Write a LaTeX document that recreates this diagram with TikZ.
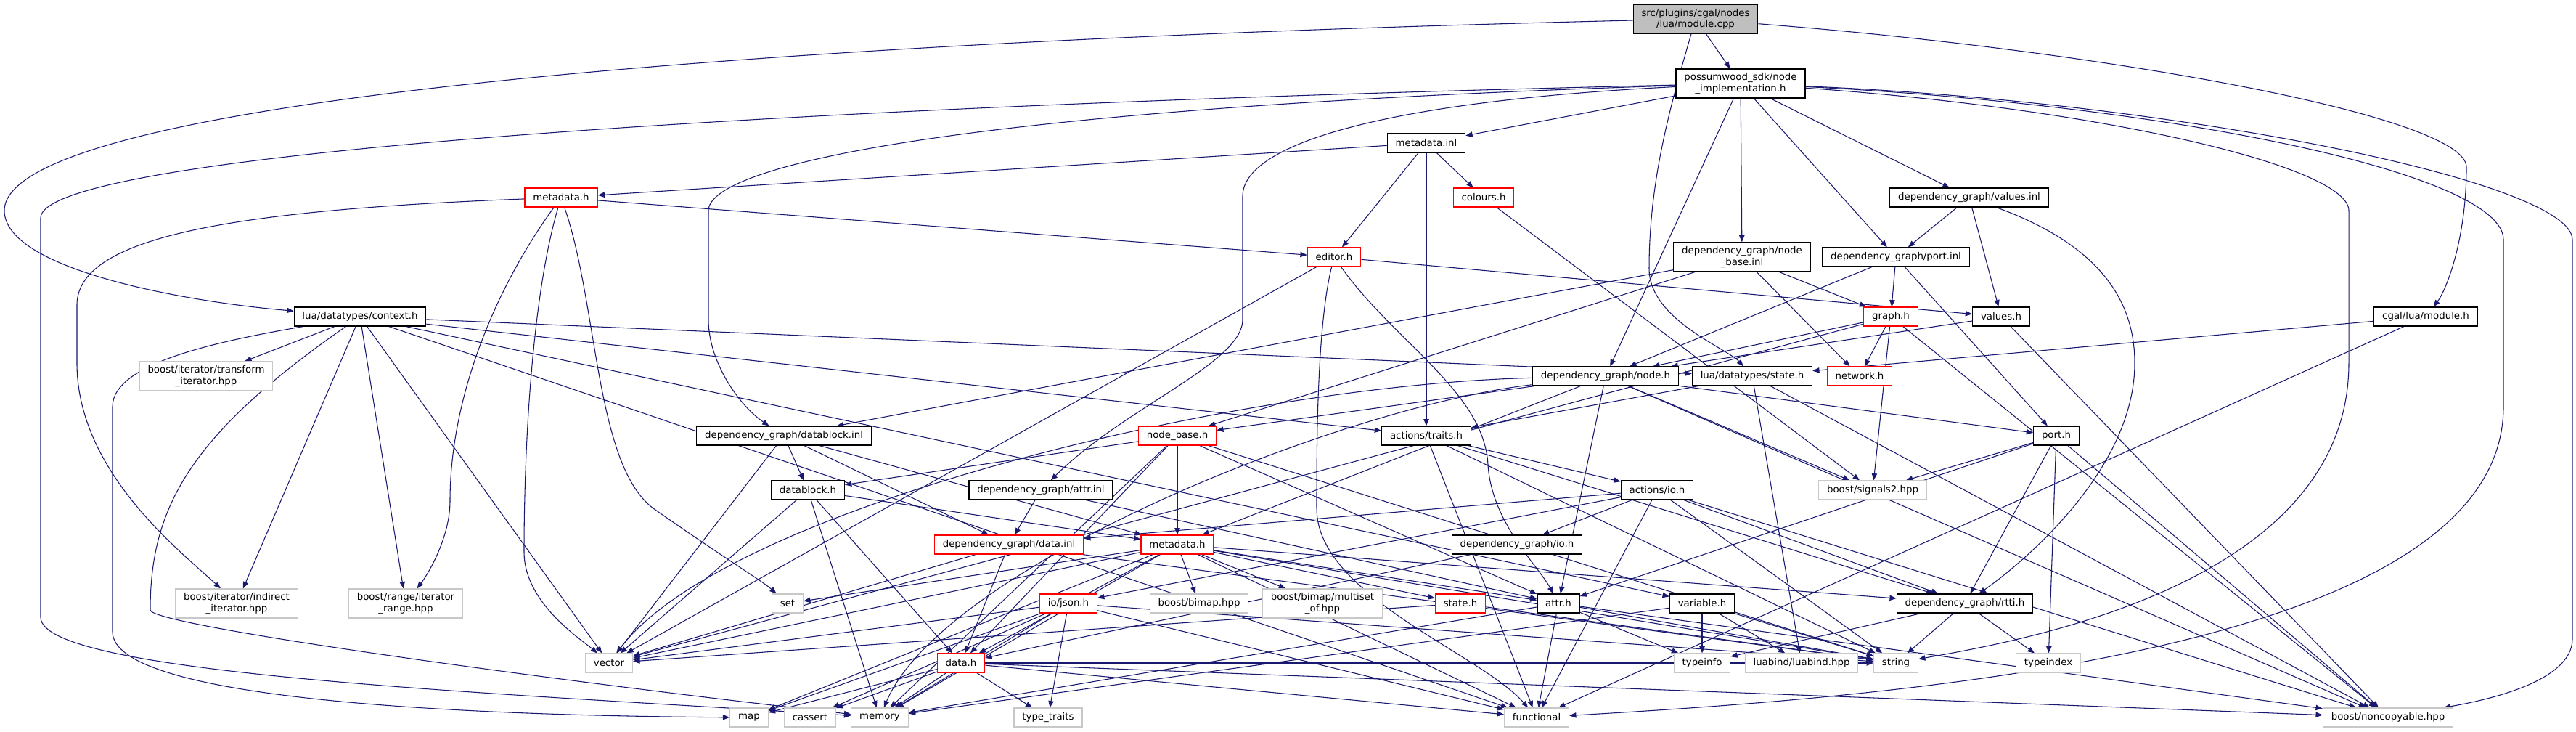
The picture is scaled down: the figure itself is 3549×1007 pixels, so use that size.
\documentclass[tikz,border=0pt]{standalone}
\usepackage{fontspec}
\setmainfont{DejaVu Sans}
\usetikzlibrary{arrows.meta,backgrounds}
\definecolor{depblue}{HTML}{191970}
\definecolor{extgray}{HTML}{C8C8C8}
\definecolor{rootgray}{HTML}{BFBFBF}
\definecolor{truncred}{HTML}{FF0000}

\begin{document}
\begin{tikzpicture}[x=0.75pt, y=-0.75pt,
    hdr/.style={draw=black, fill=white, line width=0.9pt, inner xsep=8.5pt, inner ysep=0pt,
      minimum height=19.5pt, align=center, font=\fontsize{10}{11.5}\selectfont},
    twoline/.style={minimum height=30pt},
    trunc/.style={hdr, draw=truncred},
    ext/.style={hdr, draw=extgray},
    rootf/.style={hdr, fill=rootgray},
    dep/.style={draw=depblue, line width=0.8pt, -{Triangle[length=7pt,width=5.5pt]}}]
  \useasboundingbox (0,0) rectangle (3549,1007);
  % top of the graph
  \node[rootf, twoline] (mcpp) at (2336,26) {src/plugins/cgal/nodes\\/lua/module.cpp};
  \node[hdr, twoline] (nimpl) at (2398,115) {possumwood\_sdk/node\\\_implementation.h};
  \node[hdr] (mdinl) at (1965,197) {metadata.inl};
  \node[trunc] (mdh) at (773,272) {metadata.h};
  \node[trunc] (colours) at (2044,272) {colours.h};
  \node[hdr] (valinl) at (2713,272) {dependency\_graph/values.inl};
  \node[trunc] (editor) at (1838,354) {editor.h};
  \node[hdr, twoline] (nbinl) at (2400,354) {dependency\_graph/node\\\_base.inl};
  \node[hdr] (portinl) at (2612,354) {dependency\_graph/port.inl};
  \node[hdr] (ctx) at (496,436) {lua/datatypes/context.h};
  \node[trunc] (graph) at (2605,436) {graph.h};
  \node[hdr] (valh) at (2757,436) {values.h};
  \node[hdr] (cgalmod) at (3342,436) {cgal/lua/module.h};
  % middle rows
  \node[ext, twoline] (transit) at (284,518) {boost/iterator/transform\\\_iterator.hpp};
  \node[hdr] (nodeh) at (2212,518) {dependency\_graph/node.h};
  \node[hdr] (lstate) at (2414,518) {lua/datatypes/state.h};
  \node[trunc] (network) at (2562,518) {network.h};
  \node[hdr] (dbinl) at (1080,600) {dependency\_graph/datablock.inl};
  \node[trunc] (nbh) at (1622,600) {node\_base.h};
  \node[hdr] (traits) at (1965,600) {actions/traits.h};
  \node[hdr] (porth) at (2833,600) {port.h};
  \node[hdr] (dbh) at (1113,675) {datablock.h};
  \node[hdr] (attrinl) at (1434,675) {dependency\_graph/attr.inl};
  \node[hdr] (aio) at (2283,675) {actions/io.h};
  \node[ext] (sig) at (2580,675) {boost/signals2.hpp};
  \node[trunc] (datainl) at (1390,750) {dependency\_graph/data.inl};
  \node[trunc] (dgmd) at (1622,750) {metadata.h};
  \node[hdr] (dgio) at (2090,750) {dependency\_graph/io.h};
  \node[ext, twoline] (indit) at (326,831) {boost/iterator/indirect\\\_iterator.hpp};
  \node[ext, twoline] (itrange) at (559,831) {boost/range/iterator\\\_range.hpp};
  \node[ext] (setx) at (1085,831) {set};
  \node[trunc] (json) at (1472,831) {io/json.h};
  \node[ext] (bimap) at (1652,831) {boost/bimap.hpp};
  \node[ext, twoline] (multiset) at (1822,831) {boost/bimap/multiset\\\_of.hpp};
  \node[trunc] (stateh) at (2012,831) {state.h};
  \node[hdr] (attrh) at (2147,831) {attr.h};
  \node[hdr] (variable) at (2345,831) {variable.h};
  \node[hdr] (rtti) at (2707,831) {dependency\_graph/rtti.h};
  % system and library headers
  \node[ext] (vector) at (839,913) {vector};
  \node[trunc] (datah) at (1324,913) {data.h};
  \node[ext] (typeinfo) at (2345,913) {typeinfo};
  \node[ext] (luabind) at (2482,913) {luabind/luabind.hpp};
  \node[ext] (string) at (2612,913) {string};
  \node[ext] (typeindex) at (2822,913) {typeindex};
  \node[ext] (map) at (1032,988) {map};
  \node[ext] (cassert) at (1116,988) {cassert};
  \node[ext] (memory) at (1212,988) {memory};
  \node[ext] (typetraits) at (1444,988) {type\_traits};
  \node[ext] (functional) at (2117,988) {functional};
  \node[ext] (noncopy) at (3290,988) {boost/noncopyable.hpp};

  \begin{scope}[on background layer]
    \fill[white] (0,0) rectangle (3549,1007);
    % long routed includes
    \draw[dep] (mcpp) .. controls (900,60) and (6,150) .. (6,290) .. controls (6,370) and (250,415) .. (ctx);
    \draw[dep] (mcpp) .. controls (2300,150) and (2272,250) .. (2272,370) .. controls (2272,440) and (2380,480) .. (lstate);
    \draw[dep] (mcpp) .. controls (2900,70) and (3398,160) .. (3398,230) .. controls (3398,330) and (3370,400) .. (cgalmod);
    \draw[dep] (nimpl) .. controls (900,150) and (56,220) .. (56,300) -- (56,850) .. controls (56,930) and (700,955) .. (memory);
    \draw[dep] (nimpl) .. controls (1300,150) and (976,230) .. (976,290) -- (976,440) .. controls (976,500) and (1020,560) .. (dbinl);
    \draw[dep] (nimpl) .. controls (1900,140) and (1712,200) .. (1712,270) -- (1712,440) .. controls (1712,500) and (1550,560) .. (attrinl);
    \draw[dep] (nimpl) .. controls (3000,140) and (3544,250) .. (3544,330) -- (3544,880) .. controls (3544,940) and (3420,965) .. (noncopy);
    \draw[dep] (nimpl) .. controls (2900,150) and (3236,230) .. (3236,290) -- (3236,500) .. controls (3236,800) and (2800,880) .. (string);
    \draw[dep] (nimpl) .. controls (3000,145) and (3449,240) .. (3449,330) -- (3449,560) .. controls (3449,900) and (2600,960) .. (functional);
    \draw[dep] (mdh) .. controls (300,290) and (106,330) .. (106,420) -- (106,500) .. controls (106,650) and (250,760) .. (indit);
    \draw[dep] (mdh) .. controls (680,400) and (620,550) .. (620,690) .. controls (620,740) and (590,790) .. (itrange);
    \draw[dep] (mdh) .. controls (735,400) and (722,600) .. (722,760) .. controls (722,830) and (800,880) .. (vector);
    \draw[dep] (mdh) .. controls (824,420) and (820,640) .. (900,700) .. controls (1000,770) and (1050,800) .. (setx);
    \draw[dep] (ctx) .. controls (300,470) and (155,500) .. (155,560) -- (155,870) .. controls (155,960) and (600,985) .. (map);
    \draw[dep] (ctx) .. controls (260,600) and (207,700) .. (207,840) .. controls (207,860) and (700,930) .. (memory);
    \draw[dep] (valinl) .. controls (2900,340) and (2941,420) .. (2941,500) .. controls (2941,650) and (2780,780) .. (rtti);
    \draw[dep] (editor) .. controls (1814,450) and (1814,620) .. (1814,700) .. controls (1814,820) and (2040,900) .. (functional);
    \draw[dep] (editor) .. controls (1920,470) and (2045,540) .. (2050,640) .. controls (2055,720) and (2120,780) .. (attrh);
    \draw[dep] (nodeh) .. controls (1700,530) and (1000,700) .. (vector);
    \draw[dep] (nodeh) .. controls (1850,560) and (1300,780) .. (memory);
    % direct includes, one line per including file
    \foreach \t in {nimpl} \draw[dep] (mcpp) -- (\t);
    \foreach \t in {mdinl,valinl,portinl,nbinl,nodeh} \draw[dep] (nimpl) -- (\t);
    \foreach \t in {mdh,colours,editor,traits} \draw[dep] (mdinl) -- (\t);
    \foreach \t in {editor} \draw[dep] (mdh) -- (\t);
    \foreach \t in {sig} \draw[dep] (colours) -- (\t);
    \foreach \t in {valh,vector} \draw[dep] (editor) -- (\t);
    \foreach \t in {portinl,valh} \draw[dep] (valinl) -- (\t);
    \foreach \t in {dbinl,nbh,network,graph} \draw[dep] (nbinl) -- (\t);
    \foreach \t in {graph,porth,nodeh} \draw[dep] (portinl) -- (\t);
    \foreach \t in {nodeh,network,sig,noncopy,vector} \draw[dep] (graph) -- (\t);
    \foreach \t in {nodeh,noncopy} \draw[dep] (valh) -- (\t);
    \foreach \t in {lstate,functional} \draw[dep] (cgalmod) -- (\t);
    \foreach \t in {lstate,traits,variable,transit,indit,vector,itrange,functional} \draw[dep] (ctx) -- (\t);
    \foreach \t in {nbh,dgmd,porth,sig,noncopy,attrh} \draw[dep] (nodeh) -- (\t);
    \foreach \t in {traits,luabind,noncopy} \draw[dep] (lstate) -- (\t);
    \foreach \t in {dbh,datainl,dgmd,vector} \draw[dep] (dbinl) -- (\t);
    \foreach \t in {dgmd,datah,dbh,memory,attrh,string} \draw[dep] (nbh) -- (\t);
    \foreach \t in {aio,functional,string,rtti} \draw[dep] (traits) -- (\t);
    \foreach \t in {attrh,sig,typeindex,noncopy,rtti} \draw[dep] (porth) -- (\t);
    \foreach \t in {dgmd,datah,vector,memory} \draw[dep] (dbh) -- (\t);
    \foreach \t in {datainl,attrh} \draw[dep] (attrinl) -- (\t);
    \foreach \t in {datainl,json,dgio,functional,string,rtti,noncopy} \draw[dep] (aio) -- (\t);
    \foreach \t in {datah,vector,string} \draw[dep] (datainl) -- (\t);
    \foreach \t in {datah,bimap,multiset,vector,setx,stateh,attrh,rtti,string,functional,memory,map} \draw[dep] (dgmd) -- (\t);
    \foreach \t in {vector,map,memory,cassert,typetraits,functional,string} \draw[dep] (json) -- (\t);
    \foreach \t in {datah} \draw[dep] (dgio) -- (\t);
    \foreach \t in {vector,string} \draw[dep] (stateh) -- (\t);
    \foreach \t in {functional,string,typeinfo,noncopy,memory} \draw[dep] (attrh) -- (\t);
    \foreach \t in {typeinfo,luabind,string,memory} \draw[dep] (variable) -- (\t);
    \foreach \t in {typeinfo,typeindex,string} \draw[dep] (rtti) -- (\t);
    \foreach \t in {map,cassert,memory,typetraits,functional,string,noncopy} \draw[dep] (datah) -- (\t);
  \end{scope}
\end{tikzpicture}
\end{document}
